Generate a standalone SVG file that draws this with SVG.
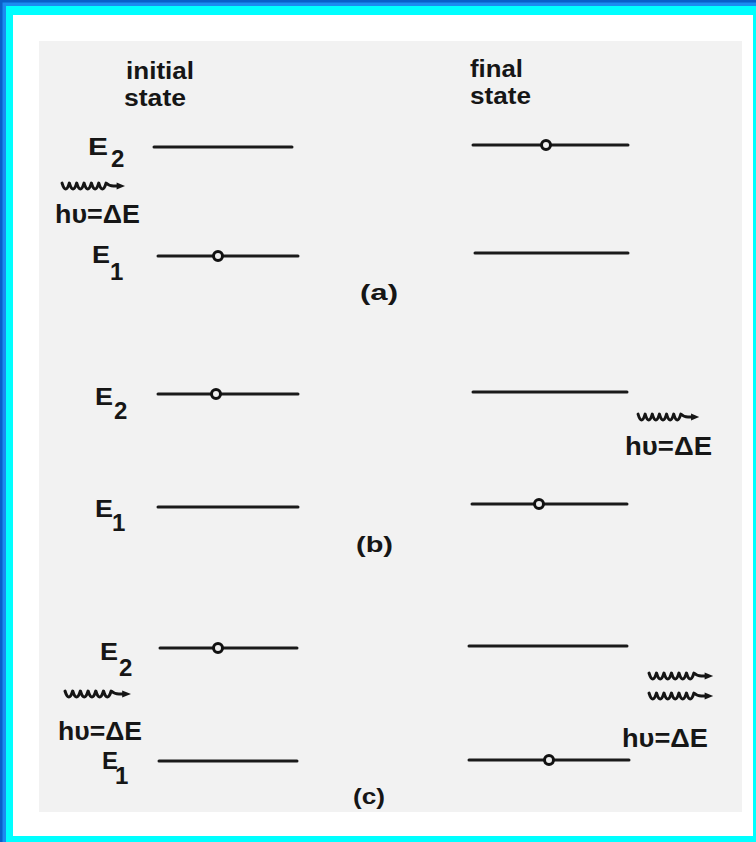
<svg xmlns="http://www.w3.org/2000/svg" width="756" height="842" viewBox="0 0 756 842">
  <style>
    .lvl { stroke: #1a1a1a; stroke-width: 3; stroke-linecap: round; fill: none; }
    .dot { fill: #eeeeee; stroke: #111; stroke-width: 3; }
    .lbl { font-family: "Liberation Sans", "DejaVu Sans", sans-serif; font-weight: bold; fill: #161616; }
    .big { font-size: 24px; }
    .hv { font-size: 26px; }
    .hdr { font-size: 23px; }
    .par { font-size: 22px; }
    .wave { fill: none; stroke: #161616; stroke-width: 2.8; stroke-linecap: round; stroke-linejoin: round; }
    .head { fill: #161616; }
  </style>
  <defs>
    <g id="wavearrow">
      <path class="wave" d="M0,0 q3.5,12 7,0 q3.5,12 7,0 q3.5,12 7,0 q3.5,12 7,0 q3.5,12 7,0 q3.5,12 7,0 q3,3 7,3 L54,3"/>
      <polygon class="head" points="52,-0.5 60,3 52,6.5"/>
    </g>
  </defs>

  <!-- frame -->
  <rect x="0" y="0" width="756" height="842" fill="#00ffff"/>
  <rect x="0" y="0" width="756" height="6" fill="#1b8cf0"/>
  <rect x="0" y="0" width="6" height="842" fill="#1b8cf0"/>
  <rect x="0" y="0" width="756" height="2.5" fill="#0a5fc8"/>
  <rect x="0" y="0" width="2.5" height="842" fill="#0a5fc8"/>
  <rect x="13" y="15" width="740" height="821" fill="#ffffff"/>
  <rect x="39" y="41" width="703" height="771" fill="#f2f2f2"/>

  <!-- headers -->
  <g id="hdr-initial">
    <text class="lbl hdr" x="126" y="79" textLength="68" lengthAdjust="spacingAndGlyphs">initial</text>
    <text class="lbl hdr" x="124" y="106" textLength="62" lengthAdjust="spacingAndGlyphs">state</text>
  </g>
  <g id="hdr-final">
    <text class="lbl hdr" x="470" y="77" textLength="53" lengthAdjust="spacingAndGlyphs">final</text>
    <text class="lbl hdr" x="470" y="104" textLength="61" lengthAdjust="spacingAndGlyphs">state</text>
  </g>

  <!-- (a) -->
  <g id="a-initial-E2">
    <text class="lbl big" x="88" y="155" textLength="20" lengthAdjust="spacingAndGlyphs">E</text>
    <text class="lbl big" x="111" y="167">2</text>
    <line class="lvl" x1="154" y1="147" x2="292" y2="147"/>
  </g>
  <g id="a-photon-in">
    <use href="#wavearrow" transform="translate(62,183) scale(1.05,1)"/>
    <text class="lbl hv" x="55" y="223" textLength="85" lengthAdjust="spacingAndGlyphs">hυ=ΔE</text>
  </g>
  <g id="a-initial-E1">
    <text class="lbl big" x="92" y="263" textLength="18" lengthAdjust="spacingAndGlyphs">E</text>
    <text class="lbl big" x="110" y="280">1</text>
    <line class="lvl" x1="158" y1="256" x2="298" y2="256"/>
    <circle class="dot" cx="218" cy="256" r="4.5"/>
  </g>
  <g id="a-final-E2">
    <line class="lvl" x1="473" y1="145" x2="628" y2="145"/>
    <circle class="dot" cx="546" cy="145" r="4.5"/>
  </g>
  <g id="a-final-E1">
    <line class="lvl" x1="475" y1="253" x2="628" y2="253"/>
  </g>
  <text id="label-a" class="lbl par" x="360" y="300" textLength="38" lengthAdjust="spacingAndGlyphs">(a)</text>

  <!-- (b) -->
  <g id="b-initial-E2">
    <text class="lbl big" x="95" y="405" textLength="18" lengthAdjust="spacingAndGlyphs">E</text>
    <text class="lbl big" x="114" y="419">2</text>
    <line class="lvl" x1="158" y1="394" x2="298" y2="394"/>
    <circle class="dot" cx="216" cy="394" r="4.5"/>
  </g>
  <g id="b-initial-E1">
    <text class="lbl big" x="95" y="517" textLength="18" lengthAdjust="spacingAndGlyphs">E</text>
    <text class="lbl big" x="112" y="531">1</text>
    <line class="lvl" x1="158" y1="507" x2="298" y2="507"/>
  </g>
  <g id="b-final-E2">
    <line class="lvl" x1="473" y1="392" x2="627" y2="392"/>
  </g>
  <g id="b-photon-out">
    <use href="#wavearrow" transform="translate(638,414) scale(1.02,1)"/>
    <text class="lbl hv" x="625" y="455" textLength="87" lengthAdjust="spacingAndGlyphs">hυ=ΔE</text>
  </g>
  <g id="b-final-E1">
    <line class="lvl" x1="472" y1="504" x2="627" y2="504"/>
    <circle class="dot" cx="539" cy="504" r="4.5"/>
  </g>
  <text id="label-b" class="lbl par" x="356" y="552" textLength="37" lengthAdjust="spacingAndGlyphs">(b)</text>

  <!-- (c) -->
  <g id="c-initial-E2">
    <text class="lbl big" x="100" y="660" textLength="18" lengthAdjust="spacingAndGlyphs">E</text>
    <text class="lbl big" x="119" y="676">2</text>
    <line class="lvl" x1="160" y1="648" x2="297" y2="648"/>
    <circle class="dot" cx="218" cy="648" r="4.5"/>
  </g>
  <g id="c-photon-in">
    <use href="#wavearrow" transform="translate(65,691) scale(1.1,1)"/>
    <text class="lbl hv" x="58" y="740" textLength="84" lengthAdjust="spacingAndGlyphs">hυ=ΔE</text>
  </g>
  <g id="c-initial-E1">
    <text class="lbl big" x="102" y="769" textLength="16" lengthAdjust="spacingAndGlyphs">E</text>
    <text class="lbl big" x="115" y="784">1</text>
    <line class="lvl" x1="159" y1="761" x2="297" y2="761"/>
  </g>
  <g id="c-final-E2">
    <line class="lvl" x1="469" y1="646" x2="627" y2="646"/>
  </g>
  <g id="c-photons-out">
    <use href="#wavearrow" transform="translate(649,673) scale(1.07,1)"/>
    <use href="#wavearrow" transform="translate(649,693) scale(1.07,1)"/>
    <text class="lbl hv" x="622" y="747" textLength="86" lengthAdjust="spacingAndGlyphs">hυ=ΔE</text>
  </g>
  <g id="c-final-E1">
    <line class="lvl" x1="469" y1="760" x2="629" y2="760"/>
    <circle class="dot" cx="549" cy="760" r="4.5"/>
  </g>
  <text id="label-c" class="lbl par" x="353" y="804" textLength="32" lengthAdjust="spacingAndGlyphs">(c)</text>
</svg>
